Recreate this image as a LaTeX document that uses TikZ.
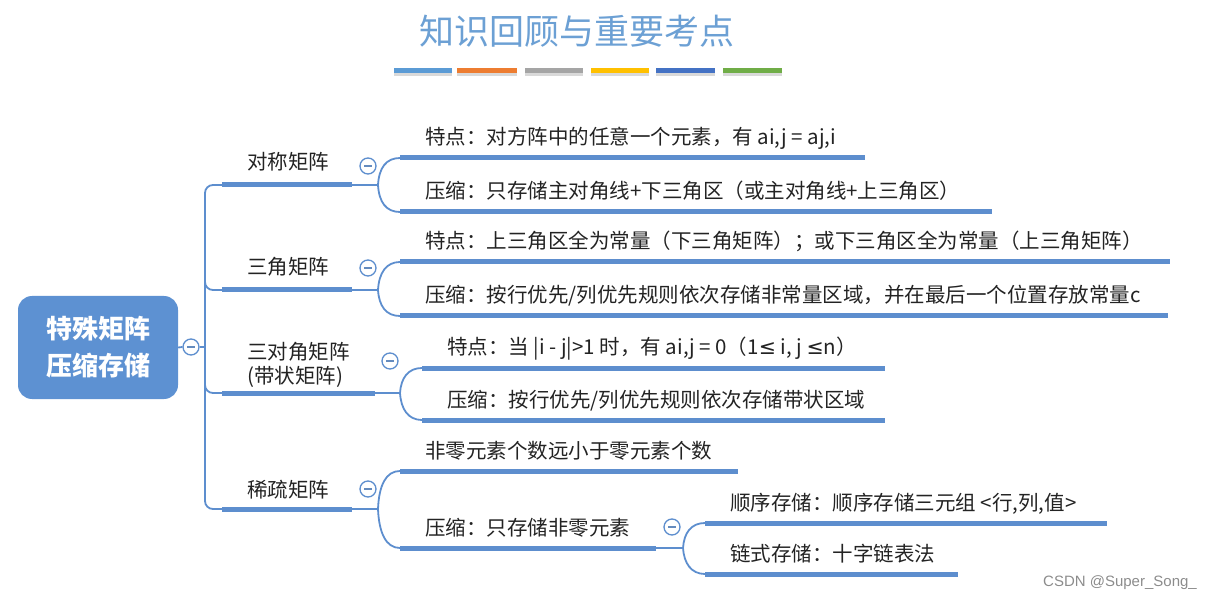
\documentclass[tikz,border=0pt]{standalone}
\usepackage{fontspec}
\setmainfont{Noto Sans CJK SC}
\newfontfamily\wmfont{Liberation Sans}
\newfontfamily\symf{DejaVu Sans}
\definecolor{lineblue}{RGB}{93,142,206}
\definecolor{rootblue}{RGB}{93,145,210}
\definecolor{titleblue}{RGB}{108,160,212}
\definecolor{txtc}{RGB}{35,35,35}
\definecolor{barA}{RGB}{91,155,213}
\definecolor{barB}{RGB}{237,125,49}
\definecolor{barC}{RGB}{165,165,165}
\definecolor{barD}{RGB}{255,192,0}
\definecolor{barE}{RGB}{68,114,196}
\definecolor{barF}{RGB}{112,173,71}
\tikzset{
  uline/.style={line width=5pt, lineblue},
  conn/.style={line width=1.8pt, lineblue},
  colbar/.style={line width=5pt},
  ttext/.style={font=\fontsize{20.5}{24}\selectfont, text=txtc, inner sep=0pt, anchor=base west},
  collapse/.style={circle, draw=lineblue, line width=1.3pt, fill=white, minimum size=16pt, inner sep=0pt},
  minusbar/.style={line width=1.3pt, lineblue!80!gray},
}
\begin{document}
\begin{tikzpicture}[x=1pt,y=-1pt]
\useasboundingbox (0,0) rectangle (1212,601);
% title
\node[font=\fontsize{35}{40}\selectfont, text=titleblue, inner sep=0pt] (title) at (577,31) {知识回顾与重要考点};
% colour bars
\foreach \a/\b/\c in {394/452/barA,457/517/barB,525/583/barC,591/649/barD,656/715/barE,723/782/barF}{
  \draw[colbar, black!15] (\a,73.5) -- (\b,73.5);
  \draw[colbar, \c] (\a,71) -- (\b,71);
}
% root
\node[fill=rootblue, rounded corners=14pt, minimum width=160pt, minimum height=103pt, inner sep=0pt,
      text=white, font=\fontsize{26}{37}\selectfont\bfseries, align=center] (root) at (98,347.5) {特殊矩阵\\压缩存储};
\node[collapse] (rc) at (191,347) {};
\coordinate (trunk) at (205,347);
\draw[conn] (root.east) -- (rc.west);
\draw[conn] (rc.east) -- (trunk);
% level-1 underline coordinates
\coordinate (a1s) at (222,185); \coordinate (a1e) at (352,185);
\coordinate (a2s) at (222,290); \coordinate (a2e) at (352,290);
\coordinate (a3s) at (222,393); \coordinate (a3e) at (375,393);
\coordinate (a4s) at (222,509); \coordinate (a4e) at (352,509);
\coordinate (k2) at (205,270);
\coordinate (k3) at (205,373);
% trunk
\draw[conn, rounded corners=8pt] (a1s) -| (trunk) |- (a4s);
\draw[conn, rounded corners=8pt] (k2) |- (a2s);
\draw[conn, rounded corners=8pt] (k3) |- (a3s);
\foreach \n in {1,2,3,4}{\draw[uline] (a\n s) -- (a\n e);}
% level-1 texts
\node[ttext] (t1) at (247,170) {对称矩阵};
\node[ttext] (t2) at (247,275) {三角矩阵};
\node[ttext, anchor=west, align=left] (t3) at (247,365) {三对角矩阵\\(带状矩阵)};
\node[ttext] (t4) at (247,497) {稀疏矩阵};
% collapse circles
\node[collapse] (c1) at (368,166) {};
\node[collapse] (c2) at (368,268) {};
\node[collapse] (c3) at (390,361) {};
\node[collapse] (c4) at (368,489) {};
\node[collapse] (c5) at (672,527) {};
\foreach \n in {rc,c1,c2,c3,c4,c5}{\draw[minusbar] ([xshift=-4pt]\n.center) -- ([xshift=4pt]\n.center);}
% junctions
\coordinate (j1) at (378,185);
\coordinate (j2) at (378,290);
\coordinate (j3) at (400,393);
\coordinate (j4) at (378,509);
\coordinate (j5) at (683,548);
% level-2 underlines
\coordinate (b1s) at (400,158); \coordinate (b1e) at (865,158);
\coordinate (b2s) at (400,212); \coordinate (b2e) at (992,212);
\coordinate (b3s) at (400,262); \coordinate (b3e) at (1170,262);
\coordinate (b4s) at (400,316); \coordinate (b4e) at (1168,316);
\coordinate (b5s) at (422,368); \coordinate (b5e) at (885,368);
\coordinate (b6s) at (422,420); \coordinate (b6e) at (885,420);
\coordinate (b7s) at (400,471); \coordinate (b7e) at (738,471);
\coordinate (b8s) at (400,548); \coordinate (b8e) at (656,548);
\coordinate (b9s) at (705,523); \coordinate (b9e) at (1107,523);
\coordinate (b10s) at (705,574); \coordinate (b10e) at (958,574);
% connectors
\draw[conn] (a1e) -- (j1) .. controls (379,168) and (386,158) .. (b1s);
\draw[conn] (j1) .. controls (379,202) and (386,212) .. (b2s);
\draw[conn] (a2e) -- (j2) .. controls (379,273) and (386,262) .. (b3s);
\draw[conn] (j2) .. controls (379,306) and (386,316) .. (b4s);
\draw[conn] (a3e) -- (j3) .. controls (401,378) and (408,368) .. (b5s);
\draw[conn] (j3) .. controls (401,409) and (408,420) .. (b6s);
\draw[conn] (a4e) -- (j4) .. controls (379,485) and (386,471) .. (b7s);
\draw[conn] (j4) .. controls (379,533) and (386,548) .. (b8s);
\draw[conn] (b8e) -- (j5) .. controls (684,533) and (691,523) .. (b9s);
\draw[conn] (j5) .. controls (684,563) and (691,574) .. (b10s);
\foreach \n in {1,...,10}{\draw[uline] (b\n s) -- (b\n e);}
% level-2 texts
\node[ttext] (d1) at (425,145) {特点：对方阵中的任意一个元素，有 ai,j = aj,i};
\node[ttext] (d2) at (425,199) {压缩：只存储主对角线+下三角区（或主对角线+上三角区）};
\node[ttext] (d3) at (425,249) {特点：上三角区全为常量（下三角矩阵）；或下三角区全为常量（上三角矩阵）};
\node[ttext] (d4) at (425,303) {压缩：按行优先/列优先规则依次存储非常量区域，并在最后一个位置存放常量c};
\node[ttext] (d5) at (447,355) {特点：当 |i - j|>1 时，有 ai,j = 0（1{\symf ≤} i, j {\symf ≤}n）};
\node[ttext] (d6) at (447,407) {压缩：按行优先/列优先规则依次存储带状区域};
\node[ttext] (d7) at (425,458) {非零元素个数远小于零元素个数};
\node[ttext] (d8) at (425,535) {压缩：只存储非零元素};
\node[ttext] (d9) at (730,510) {顺序存储：顺序存储三元组 <行,列,值>};
\node[ttext] (d10) at (730,561) {链式存储：十字链表法};
% watermark
\node[font=\wmfont\fontsize{15}{18}\selectfont, text=black!45, anchor=east, inner sep=0pt] (wm) at (1197,583) {CSDN @Super\_Song\_};
\end{tikzpicture}
\end{document}
